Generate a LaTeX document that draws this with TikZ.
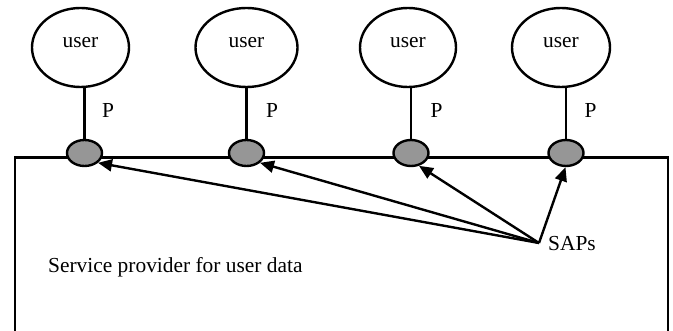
\documentclass[tikz,border=0pt]{standalone}
\usepackage{fontspec}
\setmainfont{Liberation Serif}
\usetikzlibrary{shapes.geometric,arrows.meta}
\definecolor{sapgray}{RGB}{150,150,150}
\begin{document}
\begin{tikzpicture}[x=1pt,y=-1pt,
  line width=2.4pt,
  every node/.style={font=\fontsize{21.4}{24}\selectfont},
  userbox/.style={draw,ellipse,inner sep=0pt,minimum height=79pt,text depth=10pt},
  sap/.style={draw,ellipse,fill=sapgray,minimum width=35pt,minimum height=26pt,inner sep=0pt},
  plabel/.style={inner sep=0pt},
  arr/.style={-{Triangle[length=14pt,width=12pt]}}]
\useasboundingbox (0,0) rectangle (673,331);
% provider box (open at the bottom)
\draw (15,331) -- (15,157.5) -- (668,157.5) -- (668,331);
% users
\node[userbox,minimum width=97pt] (u1) at (80.5,47.5) {user};
\node[userbox,minimum width=102pt] (u2) at (246.5,47.5) {user};
\node[userbox,minimum width=96pt] (u3) at (408,47.5) {user};
\node[userbox,minimum width=98pt] (u4) at (561,47.5) {user};
% SAPs
\node[sap] (s1) at (84.5,153) {};
\node[sap] (s2) at (246.5,153) {};
\node[sap] (s3) at (411,153) {};
\node[sap] (s4) at (566,153) {};
% stems
\draw (s1.north) -- (s1.north |- u1.south);
\draw (s2.north) -- (s2.north |- u2.south);
\draw (s3.north) -- (s3.north |- u3.south);
\draw (s4.north) -- (s4.north |- u4.south);
% P labels
\node[plabel] (p1) at (108,110) {P};
\node[plabel] (p2) at (272,110) {P};
\node[plabel] (p3) at (436.5,110) {P};
\node[plabel] (p4) at (590.5,110) {P};
% arrows
\coordinate (o) at (539,243);
\node[anchor=west,inner sep=0pt] (saps) at (547,244) {SAPs};
\draw[arr] (o) -- (s1.-36);
\draw[arr] (o) -- (s2.-36);
\draw[arr] (o) -- (s3.-58);
\draw[arr] (o) -- (s4.-92);
\node[anchor=west,inner sep=0pt] (prov) at (47,267) {Service provider for user data};
\end{tikzpicture}
\end{document}
